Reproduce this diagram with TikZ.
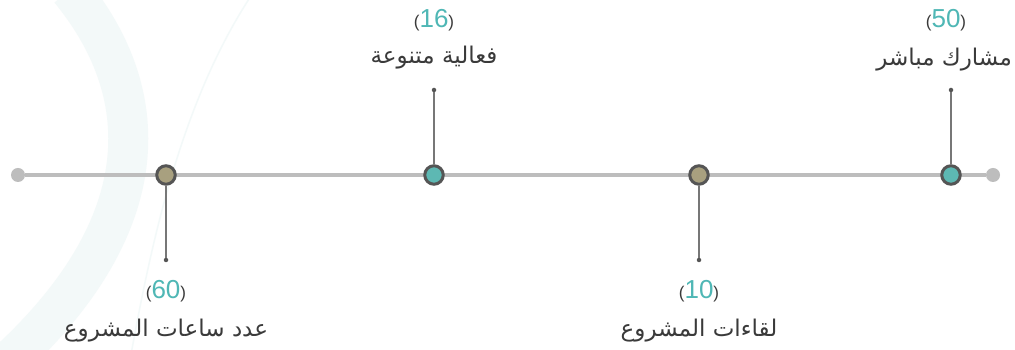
\documentclass[tikz,border=0pt]{standalone}
\usepackage{fontspec}
\usepackage{xcolor}
\setmainfont{Liberation Sans}
\newfontfamily\arabicfont[Script=Arabic]{DejaVu Sans}
\TeXXeTstate=1
\definecolor{linegray}{HTML}{BDBDBD}
\definecolor{rimgray}{HTML}{555555}
\definecolor{stemgray}{HTML}{777777}
\definecolor{textgray}{HTML}{3A3A3A}
\definecolor{tealfill}{HTML}{5DB8B3}
\definecolor{olivefill}{HTML}{A8A07F}
\definecolor{numteal}{HTML}{4FB7B5}
\definecolor{wmteal}{HTML}{F3F9F9}
\newcommand{\numlabel}[1]{{\fontsize{17}{17}\selectfont\color{textgray}(}{\fontsize{26}{26}\selectfont\color{numteal}#1}{\fontsize{17}{17}\selectfont\color{textgray})}}
\newcommand{\artext}[1]{{\arabicfont\fontsize{23}{23}\selectfont\color{textgray}\beginR #1\endR}}
\begin{document}
\begin{tikzpicture}
	[x=1pt,y=1pt,
	endcap/.style={circle,fill=linegray,inner sep=0pt,minimum size=14pt},
	milestone/.style={circle,draw=rimgray,line width=3pt,inner sep=0pt,minimum size=18.5pt},
	tip/.style={circle,fill=rimgray,inner sep=0pt,minimum size=4.5pt},
	stem/.style={stemgray,line width=1.1pt},
	num/.style={inner sep=0pt,anchor=center},
	lbl/.style={inner sep=0pt,anchor=center}]
	\useasboundingbox (0,0) rectangle (1015,350);
	\fill[white] (0,0) rectangle (1015,350);
	\draw[wmteal,line width=40pt] (70,360) .. controls (160,250) and (150,120) .. (10,-10);
	\draw[wmteal,line width=1.5pt] (255,360) .. controls (180,250) and (150,100) .. (130,-10);
	\node[endcap] (left) at (18,175) {};
	\node[endcap] (right) at (993,175) {};
	\draw[linegray,line width=4pt] (left) -- (right);
	\node[milestone,fill=olivefill] (hours) at (166,175) {};
	\node[milestone,fill=tealfill] (events) at (434,175) {};
	\node[milestone,fill=olivefill] (meetings) at (699,175) {};
	\node[milestone,fill=tealfill] (people) at (951,175) {};
	\node[tip] (hourstip) at (166,90) {};
	\node[tip] (eventstip) at (434,260) {};
	\node[tip] (meetingstip) at (699,90) {};
	\node[tip] (peopletip) at (951,260) {};
	\draw[stem] (hours) -- (hourstip);
	\draw[stem] (events) -- (eventstip);
	\draw[stem] (meetings) -- (meetingstip);
	\draw[stem] (people) -- (peopletip);
	\node[num] (hoursnum) at (166,59) {\numlabel{60}};
	\node[lbl] (hourslbl) at (166,19) {\artext{عدد ساعات المشروع}};
	\node[num] (eventsnum) at (434,330) {\numlabel{16}};
	\node[lbl] (eventslbl) at (434,292) {\artext{فعالية متنوعة}};
	\node[num] (meetingsnum) at (699,59) {\numlabel{10}};
	\node[lbl] (meetingslbl) at (699,19) {\artext{لقاءات المشروع}};
	\node[num] (peoplenum) at (946,330) {\numlabel{50}};
	\node[lbl,anchor=east] (peoplelbl) at (1012,290) {\artext{مشارك مباشر}};
\end{tikzpicture}
\end{document}
